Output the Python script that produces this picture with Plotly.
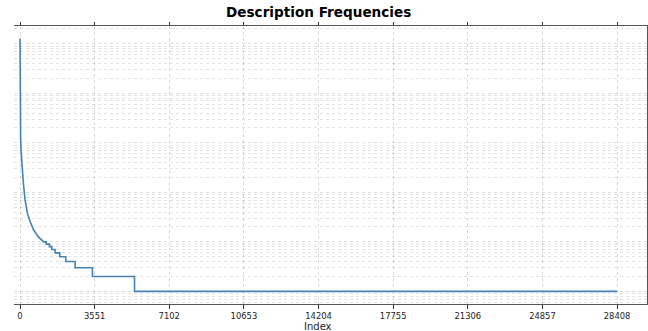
import plotly.graph_objects as go

# ---- data ----
head_index = [0, 2, 6, 15, 30, 48, 95, 159, 238, 350, 477, 636, 874, 1000, 1130]
head_freq = [127000, 30000, 8000, 2500, 1200, 720, 285, 154, 71, 38, 26, 17.7, 12.6, 11, 10]

step_value = [10, 9, 8, 7, 6, 5, 4, 3, 2, 1]
step_start = [1130, 1250, 1400, 1511, 1668, 1892, 2178, 2622, 3446, 5448]
last_index = 28411

tick_vals = [0, 3551, 7102, 10653, 14204, 17755, 21306, 24857, 28408]
tick_text = [str(v) for v in tick_vals]

# ---- build series ----
xs = list(head_index)
ys = list(head_freq)
ends = step_start[1:] + [last_index]
for s, e, v in zip(step_start, ends, step_value):
    xs += [s, e]
    ys += [v, v]

fig = go.Figure()
fig.add_trace(go.Scatter(x=xs, y=ys, mode="lines",
                         line=dict(color="#4682b4", width=1.6),
                         showlegend=False, hoverinfo="skip"))

W, H = 648, 331
ml, mr, mt, mb = 14, 1.3, 26, 27

grid_col = "rgba(0,0,0,0.15)"
fig.update_layout(
    width=W, height=H,
    margin=dict(l=ml, r=mr, t=mt, b=mb, pad=0, autoexpand=False),
    paper_bgcolor="white", plot_bgcolor="white",
    font=dict(family="DejaVu Sans", color="#222", size=8),
    showlegend=False,
)
fig.update_xaxes(
    range=[-286, 29831], automargin=False,
    tickvals=tick_vals, ticktext=tick_text,
    ticks="outside", ticklen=3.5, tickwidth=0.8, tickcolor="#333",
    tickfont=dict(size=8.4, color="#222"),
    showline=True, mirror="all", linecolor="#555", linewidth=1,
    showgrid=True, gridcolor=grid_col, griddash="dot", gridwidth=0.8,
    zeroline=False,
)
fig.update_yaxes(
    type="log", range=[-0.255, 5.359], automargin=False,
    side="right",
    showticklabels=False, ticks="",
    dtick=1,
    showline=True, mirror=False, linecolor="#555", linewidth=1,
    showgrid=True, gridcolor="rgba(0,0,0,0.13)", griddash="dot", gridwidth=0.7,
    minor=dict(dtick="D1", showgrid=True, gridcolor="rgba(0,0,0,0.11)",
               griddash="dot", gridwidth=0.7, ticks=""),
    zeroline=False,
)

plot_w = W - ml - mr
def px_to_paper_x(px):
    return (px - ml) / plot_w

fig.add_annotation(text="<b>Description Frequencies</b>", xref="paper", yref="paper",
                   x=px_to_paper_x(318), y=1, yshift=4, xanchor="center", yanchor="bottom",
                   showarrow=False, font=dict(size=13.6, family="DejaVu Sans", color="black"))
fig.add_annotation(text="Index", xref="paper", yref="paper",
                   x=px_to_paper_x(318), y=0, yshift=-15, xanchor="center", yanchor="top",
                   showarrow=False, font=dict(size=10, family="DejaVu Sans", color="#222"))

fig.write_html("out.html", config={"displayModeBar": False},
               post_script="document.body.style.margin='0';document.body.style.overflow='hidden';")
